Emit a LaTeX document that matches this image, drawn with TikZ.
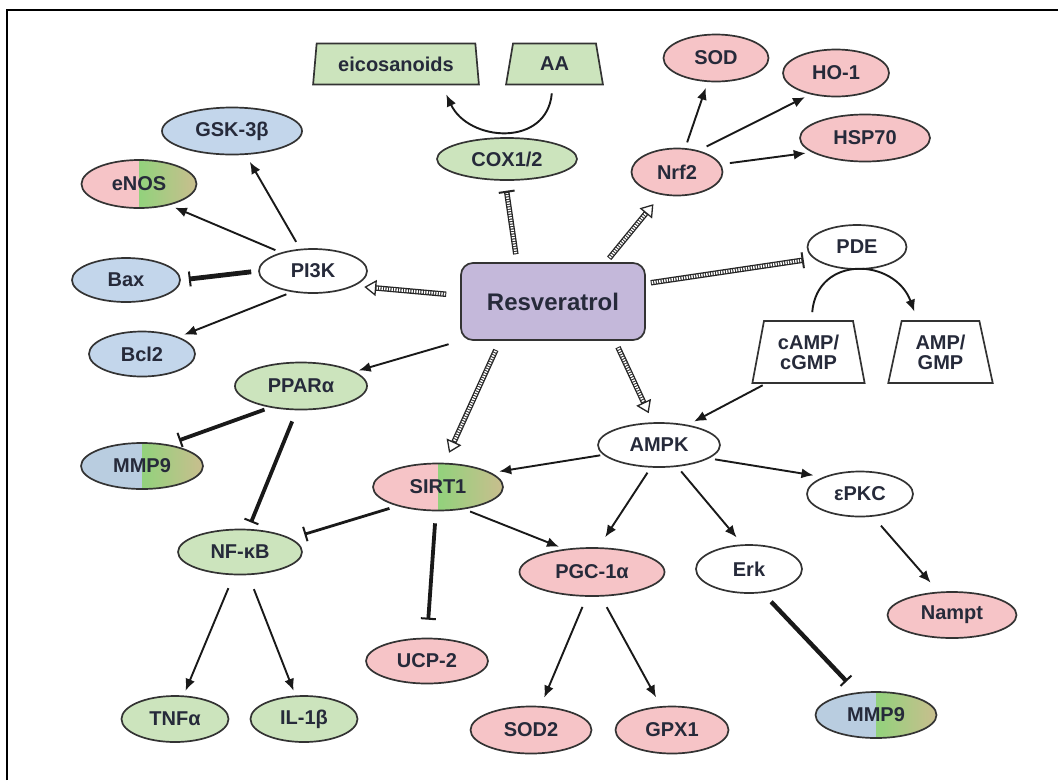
\documentclass[tikz,border=0pt]{standalone}
\usepackage{fontspec}
\setsansfont{Liberation Sans}
\usetikzlibrary{arrows.meta,shapes.geometric,calc}
\definecolor{lgreen}{HTML}{CCE4BD}
\definecolor{lpink}{HTML}{F6C4C7}
\definecolor{lblue}{HTML}{C3D6EB}
\definecolor{gblue}{HTML}{B9CDE0}
\definecolor{bgreen}{HTML}{92D27C}
\definecolor{olive}{HTML}{C9BE8E}
\definecolor{lpurple}{HTML}{C4B8DA}
\definecolor{txt}{HTML}{262A3A}

\begin{document}
\begin{tikzpicture}
[x=1pt, y=-1pt,
blob/.style = {draw=black!80, line width=1.7pt, shape=ellipse, inner sep=0pt, text=txt,
  font=\sffamily\bfseries\fontsize{20}{22}\selectfont},
sz/.style 2 args = {minimum width=#1pt, minimum height=#2pt},
grn/.style = {blob, fill=lgreen},
pnk/.style = {blob, fill=lpink},
blu/.style = {blob, fill=lblue},
wht/.style = {blob, fill=white},
half/.style = {blob, path picture={
  \fill[#1] (path picture bounding box.south west) rectangle (path picture bounding box.north);
  \shade[left color=bgreen, right color=olive] (path picture bounding box.south) rectangle (path picture bounding box.north east);}},
trap/.style = {draw=black!80, line width=1.7pt, shape=trapezium, trapezium stretches=true,
  inner sep=0pt, text=txt, align=center, font=\sffamily\bfseries\fontsize{20}{22}\selectfont},
act/.style = {-{Latex[length=12pt,width=10pt]}, line width=1.9pt, draw=black!90, shorten <=6pt, shorten >=6pt},
inh/.style = {-{Bar[width=15pt,line width=2pt]}, line width=3.8pt, draw=black!90, shorten <=8pt, shorten >=10pt},
dact/.style 2 args = {line width=5.5pt, draw=black!85,
  -{Triangle[open, length=12pt, width=16pt, line width=1.3pt]},
  shorten <=#1pt, shorten >=#2pt,
  postaction={draw=white, line width=2.9pt, -, dash pattern=on 1.4pt off 1.1pt,
    shorten <=#1pt+1pt, shorten >=#2pt+12pt}},
dinh/.style 2 args = {line width=5.5pt, draw=black!85,
  -{Bar[width=16pt, line width=2pt]},
  shorten <=#1pt, shorten >=#2pt,
  postaction={draw=white, line width=2.9pt, -, dash pattern=on 1.4pt off 1.1pt,
    shorten <=#1pt+1pt, shorten >=#2pt+2.5pt}}]
\linespread{0.9}
\useasboundingbox (0,0) rectangle (1058,780);
\draw[line width=2.5pt] (7,780) -- (7,10) -- (1058,10);

\node [draw=black!80, line width=1.7pt, fill=lpurple, rounded corners=12pt, minimum width=184pt,
  minimum height=77pt, text=txt, font=\sffamily\bfseries\fontsize{24}{26}\selectfont]
  (res) at (553,301.5) {Resveratrol};

% top
\node [trap, fill=lgreen, trapezium angle=80, minimum width=166pt, minimum height=41pt] (eic) at (396,64) {eicosanoids};
\node [trap, fill=lgreen, trapezium angle=80, minimum width=97pt, minimum height=41pt] (aa) at (554.5,64) {AA};
\node [grn, sz={140}{42}] (cox) at (507,159) {COX1/2};
\node [pnk, sz={105}{47}] (sod) at (716,58) {SOD};
\node [pnk, sz={106}{47}] (ho1) at (836,73) {HO-1};
\node [pnk, sz={130}{47}] (hsp) at (865,138) {HSP70};
\node [pnk, sz={91}{47}] (nrf) at (677,172) {Nrf2};

% left
\node [blu, sz={140}{47}] (gsk) at (232,131) {GSK-3β};
\node [half=lpink, sz={115}{48}] (enos) at (139,184) {eNOS};
\node [wht, sz={108}{44}] (pi3k) at (313,271) {PI3K};
\node [blu, sz={108}{44}] (bax) at (126,280) {Bax};
\node [blu, sz={106}{45}] (bcl) at (142,354) {Bcl2};
\node [grn, sz={132}{47}] (ppar) at (301,386) {PPARα};
\node [half=gblue, sz={122}{46}] (mmpl) at (142,466) {MMP9};
\node [half=lpink, sz={130}{47}] (sirt) at (438,487) {SIRT1};
\node [grn, sz={124}{45}] (nfkb) at (240,552) {NF-κB};
\node [pnk, sz={122}{45}] (ucp) at (427,661) {UCP-2};
\node [grn, sz={107}{46}] (tnf) at (175,719) {TNFα};
\node [grn, sz={107}{46}] (il) at (304,719) {IL-1β};

% right
\node [wht, sz={99}{44}] (pde) at (857,247) {PDE};
\node [trap, fill=white, trapezium angle=77, minimum width=113pt, minimum height=62pt] (camp) at (808.5,352) {cAMP/\\cGMP};
\node [trap, fill=white, trapezium angle=76, minimum width=105pt, minimum height=62pt] (amp) at (940.5,352) {AMP/\\GMP};
\node [wht, sz={122}{44}] (ampk) at (659,445) {AMPK};
\node [wht, sz={106}{45}] (epkc) at (860,494) {εPKC};
\node [pnk, sz={145}{48}] (pgc) at (592,572) {PGC-1α};
\node [wht, sz={106}{48}] (erk) at (749,569) {Erk};
\node [pnk, sz={129}{46}] (nampt) at (952,615) {Nampt};
\node [half=gblue, sz={121}{46}] (mmpr) at (876,715) {MMP9};
\node [pnk, sz={121}{47}] (sod2) at (531,730) {SOD2};
\node [pnk, sz={113}{47}] (gpx) at (672,730) {GPX1};

\path[every edge/.style={draw,act}]
(nrf)edge(sod) (nrf.45)edge[shorten <=9pt](ho1.220) (nrf.10)edge[shorten <=9pt](hsp.195)
(pi3k)edge[shorten <=8pt,shorten >=8pt](gsk) (pi3k.150)edge(enos.-35) (pi3k.225)edge(bcl.25)
(res.south west)edge[shorten <=12pt,shorten >=4pt](ppar.15)
(ampk.190)edge[shorten <=3pt,shorten >=8pt](sirt.15) (ampk.250)edge[shorten >=12pt](pgc.75)
(ampk.310)edge[shorten >=9pt](erk.105) (ampk.345)edge[shorten >=10pt](epkc.155)
([xshift=14pt]camp.bottom left corner)edge[shorten <=3pt,shorten >=7pt](ampk.35)
(sirt.320)edge(pgc.140) (epkc.300)edge[shorten <=12pt,shorten >=12pt](nampt.120)
(nfkb.255)edge[shorten <=14pt,shorten >=5pt](tnf.70) (nfkb.290)edge[shorten <=15pt,shorten >=5pt](il.110)
(pgc.258)edge[shorten <=11pt,shorten >=9pt](sod2.68) (pgc.290)edge[shorten <=12pt,shorten >=10pt](gpx.115);

\path[every edge/.style={draw,inh}]
(pi3k.west)edge[line width=4.8pt,shorten <=7pt,shorten >=8pt](bax.east)
(ppar.215)edge[shorten <=6pt,shorten >=12pt](mmpl.40)
(ppar.260)edge[shorten <=12pt,shorten >=7pt](nfkb.70)
(sirt.205)edge[line width=2.8pt,shorten >=14pt](nfkb.15)
(sirt.265)edge[shorten <=12pt,shorten >=18pt](ucp.north)
(erk.300)edge[line width=4.4pt,shorten <=12pt,shorten >=15pt](mmpr.130);

\draw[dact={14}{10}] ([yshift=6pt]res.west) -- (pi3k.-20);
\draw[dact={10}{11}] ([xshift=-53pt]res.south) -- (sirt.75);
\draw[dact={7}{10}] ([xshift=62pt]res.south) -- (ampk.105);
\draw[dact={5}{12}] ([xshift=53pt]res.north) -- (nrf.235);
\draw[dinh={8}{10}] ([xshift=-36pt]res.north) -- (cox.265);
\draw[dinh={5}{10}] ([yshift=18pt]res.east) -- (pde.195);

\draw[act,shorten <=8pt,shorten >=10pt] ([xshift=-2pt]aa.south) to[out=-95,in=-65,looseness=1.45] ([xshift=46pt]eic.south);
\draw[act,shorten <=8pt,shorten >=9pt] ([xshift=3pt]camp.north) to[out=85,in=110,looseness=1.6] ([xshift=-23pt]amp.north);
\end{tikzpicture}
\end{document}
